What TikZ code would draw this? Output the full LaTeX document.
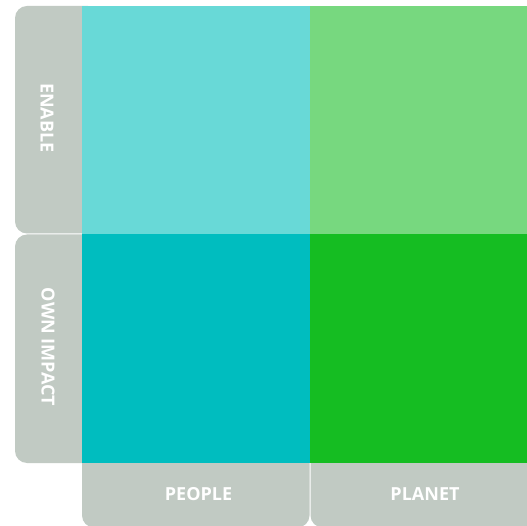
\documentclass[tikz,border=0pt]{standalone}
\usepackage{fontspec}
\newfontfamily\labfont{Open Sans}
\definecolor{cyanlight}{HTML}{68D9D7}
\definecolor{cyandark}{HTML}{00BDBF}
\definecolor{greenlight}{HTML}{77D87F}
\definecolor{greendark}{HTML}{15BD22}
\definecolor{labgray}{HTML}{C1CAC3}
\tikzset{
  cell/.style={draw=none, inner sep=0pt, anchor=north west},
  labbox/.style={fill=labgray, rounded corners=12pt},
  labtext/.style={text=white, font=\labfont\bfseries\fontsize{18}{18}\selectfont, inner sep=0pt}
}
\begin{document}
\begin{tikzpicture}[x=1pt,y=-1pt]
\useasboundingbox (0,0) rectangle (527,526);
\clip (0,0) rectangle (527,526);
% label boxes
\fill[labbox] (15,6) rectangle (100,233.5);
\fill[labbox] (15,234.5) rectangle (100,463);
\fill[labbox] (82,440) rectangle (309.5,527.5);
\fill[labbox] (310.5,440) rectangle (545,527.5);
% cells
\node[cell, fill=cyanlight, minimum width=228pt, minimum height=228pt] (pe) at (82,6) {};
\node[cell, fill=greenlight, minimum width=230pt, minimum height=228pt] (pl) at (310,6) {};
\node[cell, fill=cyandark, minimum width=228pt, minimum height=229pt] (po) at (82,234) {};
\node[cell, fill=greendark, minimum width=230pt, minimum height=229pt] (plo) at (310,234) {};
% texts
\node[labtext, rotate=-90] (enable) at (47,118) {ENABLE};
\node[labtext, rotate=-90] (own) at (48,347) {OWN IMPACT};
\node[labtext] (people) at (198.5,494.5) {PEOPLE};
\node[labtext] (planet) at (425,494.5) {PLANET};
\end{tikzpicture}
\end{document}
